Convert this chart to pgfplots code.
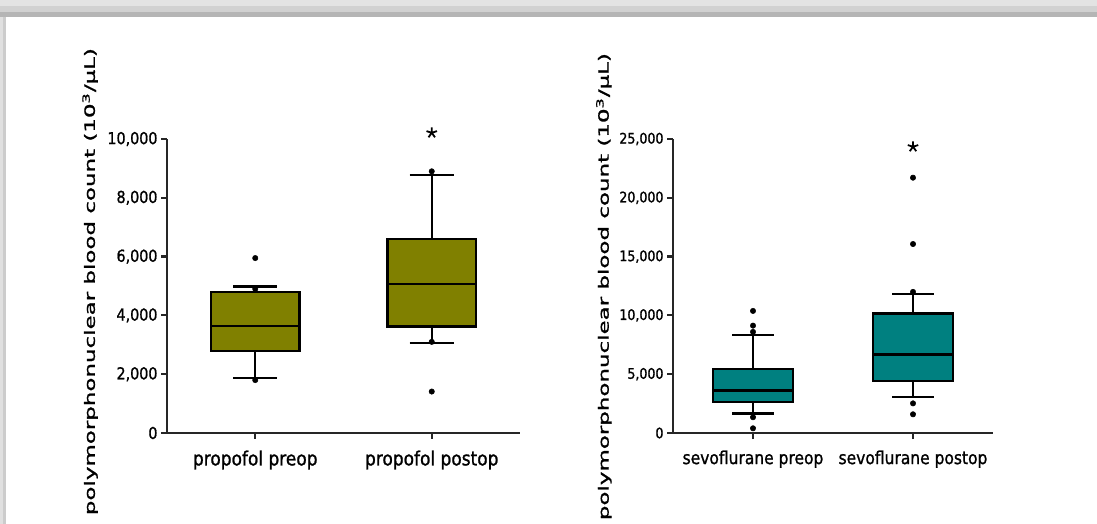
\documentclass[border=0pt]{standalone}
\usepackage{fontspec}
\setmainfont{DejaVu Sans}
\newfontfamily\hv{DejaVu Sans}[FakeBold=1.2]
\usepackage{graphicx}
\usepackage{pgfplots}
\pgfplotsset{compat=1.18}
\usepgfplotslibrary{statistics}
\definecolor{olivebox}{RGB}{128,128,0}
\definecolor{tealbox}{RGB}{0,128,128}
\newcommand\vs[1]{\scalebox{1}[1.15]{#1}}
\newcommand\ylab{\hv\resizebox{467pt}{12.5pt}{polymorphonuclear\ blood count (10\textsuperscript{3}/µL)}}
\pgfplotsset{
  myax/.style={
    scale only axis, anchor=south west, clip=false,
    axis lines=left,
    axis line style={-, line width=2.6pt, black!85},
    tick align=outside, major tick length=6pt,
    tick style={line width=2.2pt, black!85},
    xmin=-0.5, xmax=1.5, xtick={0,1}, ymin=0,
    scaled y ticks=false,
    ylabel style={anchor=center},
    xticklabel style={yshift=-8pt},
    boxplot/draw direction=y,
    boxplot/every median/.style={line width=2.8pt},
    boxplot/every box/.style={line width=2.4pt},
    boxplot/every whisker/.style={line width=2.2pt},
  },
  mybox/.style={draw=black, fill=#1, mark=none},
  outl/.style={only marks, mark=*, mark size=2.7pt,
    mark options={fill=black, draw=black, line width=0.5pt}},
}
\begin{document}
\begin{tikzpicture}
\fill[white] (0pt,0pt) rectangle (1097pt,524pt);
\fill[black!11] (0pt,518pt) rectangle (1097pt,524pt);
\fill[black!18] (0pt,512pt) rectangle (1097pt,518pt);
\fill[black!29] (0pt,507pt) rectangle (1097pt,512pt);
\fill[black!12] (0pt,0pt) rectangle (3pt,507pt);
\fill[black!20] (3pt,0pt) rectangle (6pt,507pt);
\useasboundingbox (0pt,0pt) rectangle (1097pt,524pt);

% ---------- left: propofol ----------
\begin{axis}[myax, at={(167pt,91pt)}, width=353pt, height=294pt,
  ymax=10000, ytick={0,2000,4000,6000,8000,10000},
  yticklabels={\vs{0},\vs{2,000},\vs{4,000},\vs{6,000},\vs{8,000},\vs{10,000}},
  xticklabels={\vs{propofol preop},\vs{propofol postop}},
  yticklabel style={font=\hv\fontsize{14.3}{16}\selectfont},
  xticklabel style={font=\hv\fontsize{17}{19}\selectfont},
  ylabel={\ylab},
  ylabel style={at={(axis description cs:-0.218,0.515)}},
]
\addplot[mybox=olivebox, boxplot prepared={draw position=0,
  lower whisker=1880, lower quartile=2780, median=3640,
  upper quartile=4790, upper whisker=4980,
  box extend=0.5, whisker extend=0.25}] coordinates {};
\addplot[mybox=olivebox, boxplot prepared={draw position=1,
  lower whisker=3060, lower quartile=3620, median=5070,
  upper quartile=6600, upper whisker=8770,
  box extend=0.5, whisker extend=0.25}] coordinates {};
\addplot[outl] coordinates {(0,5950) (0,4900) (0,1800) (1,8900) (1,3100) (1,1410)};
\addplot[only marks, mark=star, mark size=5.5pt, line width=1.8pt, black]
  coordinates {(1,10210)};
\end{axis}

% ---------- right: sevoflurane ----------
\begin{axis}[myax, at={(673pt,91pt)}, width=320pt, height=294pt,
  ymax=25000, ytick={0,5000,10000,15000,20000,25000},
  yticklabels={\vs{0},\vs{5,000},\vs{10,000},\vs{15,000},\vs{20,000},\vs{25,000}},
  xticklabels={\vs{sevoflurane preop},\vs{sevoflurane postop}},
  yticklabel style={font=\hv\fontsize{12.6}{14}\selectfont},
  xticklabel style={font=\hv\fontsize{15.5}{17}\selectfont},
  ylabel={\ylab},
  ylabel style={at={(axis description cs:-0.216,0.498)}},
]
\addplot[mybox=tealbox, boxplot prepared={draw position=0,
  lower whisker=1650, lower quartile=2620, median=3600,
  upper quartile=5450, upper whisker=8350,
  box extend=0.5, whisker extend=0.26}] coordinates {};
\addplot[mybox=tealbox, boxplot prepared={draw position=1,
  lower whisker=3090, lower quartile=4420, median=6690,
  upper quartile=10150, upper whisker=11850,
  box extend=0.5, whisker extend=0.26}] coordinates {};
\addplot[outl] coordinates {(0,10380) (0,9130) (0,8600) (0,1340) (0,400)
  (1,21710) (1,16070) (1,12000) (1,2520) (1,1590)};
\addplot[only marks, mark=star, mark size=5.5pt, line width=1.8pt, black]
  coordinates {(1,24340)};
\end{axis}
\end{tikzpicture}
\end{document}
